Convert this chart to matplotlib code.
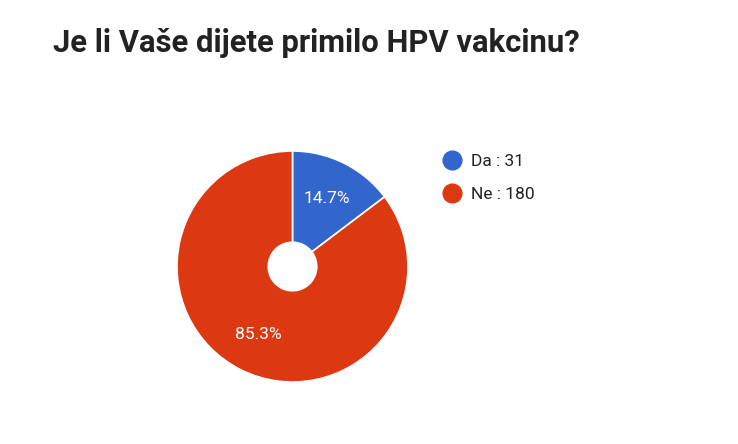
import matplotlib
matplotlib.use("Agg")
import matplotlib.pyplot as plt
from matplotlib.lines import Line2D

# Data
categories = ["Da", "Ne"]
counts = [31, 180]
colors = ["#3366CC", "#DC3912"]
title = "Je li Vaše dijete primilo HPV vakcinu?"

W, H = 738, 444
plt.rcParams['font.family'] = ['Roboto', 'DejaVu Sans']

fig = plt.figure(figsize=(W / 100, H / 100), dpi=100)
fig.patch.set_facecolor("white")

# pie axes placed in pixel units (centre ~ (292, 267), radius ~115 px)
cx, cy, r = 292.5, 266.5, 115.5
ax = fig.add_axes([(cx - r) / W, (H - cy - r) / H, 2 * r / W, 2 * r / H])

wedges, texts, autotexts = ax.pie(
    counts, colors=colors, startangle=90, counterclock=False,
    autopct="%1.1f%%", pctdistance=0.66, radius=1,
    wedgeprops=dict(width=0.79, edgecolor="white", linewidth=1.2),
    textprops=dict(color="white", fontsize=12.5),
)
ax.set_xlim(-1, 1)
ax.set_ylim(-1, 1)
ax.set_aspect("equal")
ax.axis("off")

# title
fig.text(53 / W, 1 - 52 / H, title, fontsize=22.3, fontweight="bold",
         color="#222222", ha="left", va="baseline")

# legend
handles = [Line2D([0], [0], marker="o", linestyle="none", markersize=13.5,
                  markerfacecolor=c, markeredgecolor=c) for c in colors]
labels = [f"{c} : {v}" for c, v in zip(categories, counts)]
fig.legend(handles, labels, loc="upper left",
           bbox_to_anchor=(435 / W, 1 - 147 / H), frameon=False,
           fontsize=12.5, handletextpad=0.45, labelspacing=1.05,
           handlelength=1.2, borderaxespad=0, labelcolor="#222222")

fig.savefig("out.png", dpi=100, facecolor="white")
